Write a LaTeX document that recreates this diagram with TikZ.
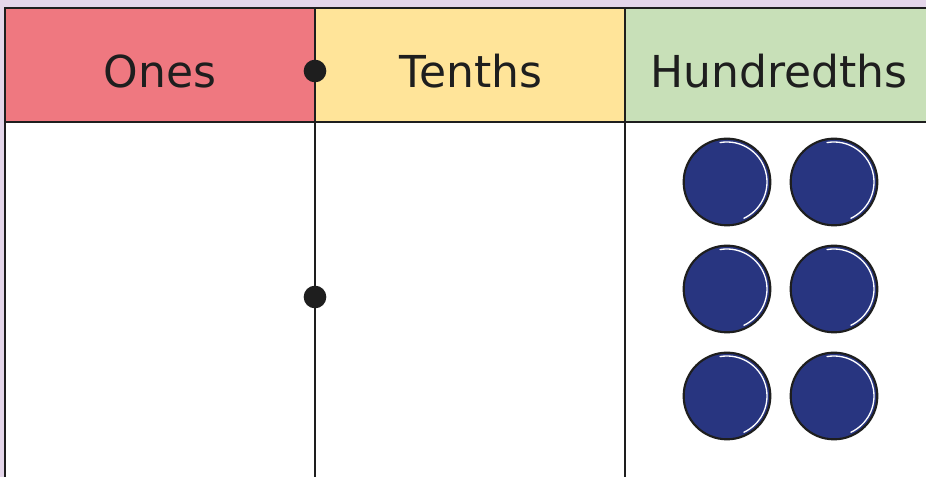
\documentclass[tikz,border=0pt]{standalone}
\usepackage{fontspec}
\setmainfont{DejaVu Sans}
\definecolor{lavender}{HTML}{E4D6EA}
\definecolor{onesred}{HTML}{EF7880}
\definecolor{tenthsyellow}{HTML}{FFE499}
\definecolor{hundredthsgreen}{HTML}{C8E0B8}
\definecolor{counterblue}{HTML}{283580}
\definecolor{ink}{HTML}{1E1E1E}

\begin{document}
\begin{tikzpicture}[x=0.75pt,y=0.75pt,
grid/.style={draw=ink,line width=1.8pt},
heading/.style={text=ink,font=\fontsize{33}{36}\selectfont},
point/.style={circle,fill=ink,inner sep=0pt,minimum size=17pt},
counter/.style={circle,draw=ink,line width=1.6pt,fill=counterblue,inner sep=0pt,minimum size=65pt},
shine/.style={white,line width=1pt,line cap=round}]
\useasboundingbox (0,0) rectangle (926,477);
\clip (0,0) rectangle (926,477);
% background and header cells
\fill [lavender] (0,0) rectangle (926,477);
\fill [white] (5,0) rectangle (926,355);
\fill [onesred] (5,355) rectangle (315,469);
\fill [tenthsyellow] (315,355) rectangle (625,469);
\fill [hundredthsgreen] (625,355) rectangle (926,469);
% the grid
\draw [grid] (5,0) -- (5,469) -- (926,469);
\draw [grid] (5,355) -- (926,355);
\foreach \x in {315,625}
\draw [grid] (\x,0) -- (\x,469);
% headings
\node [heading] (ones) at (160,406) {Ones};
\node [heading] (tenths) at (471,406) {Tenths};
\node [heading] (hundredths) at (779,406) {Hundredths};
% decimal points
\node [point] (point 1) at (315,406) {};
\node [point] (point 2) at (315,180) {};
% six hundredths counters
\foreach \counter/\x/\y in {1/727/295,2/834/295,3/727/188,4/834/188,5/727/81,6/834/81}
{
\node [counter] (counter \counter) at (\x,\y) {};
\draw [shine] (counter \counter.center) ++(100:30pt)
arc [start angle=100,end angle=-65,radius=30pt];
}
\end{tikzpicture}
\end{document}
